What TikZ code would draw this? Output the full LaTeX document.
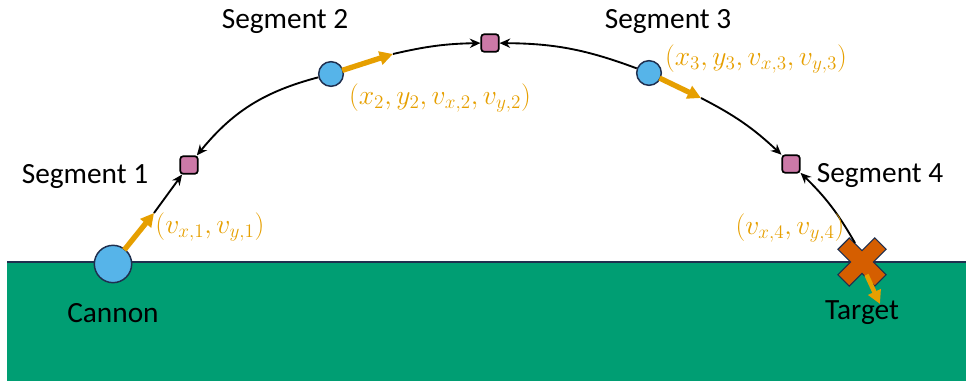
\documentclass[tikz,border=0pt]{standalone}
\usepackage{fontspec}
\setmainfont{Carlito}
\usetikzlibrary{arrows.meta}

\definecolor{skyblue}{HTML}{56B4E9}
\definecolor{ochre}{HTML}{E69F00}
\definecolor{seagreen}{HTML}{009E73}
\definecolor{vermil}{HTML}{D55E00}
\definecolor{mauve}{HTML}{CC79A7}
\definecolor{navy}{HTML}{1F2F4F}

\begin{document}
\begin{tikzpicture}[
  x=0.75pt,y=-0.75pt,
  every node/.style={font=\fontsize{22}{26}\selectfont},
  ball/.style={draw=navy,circle,fill=skyblue,line width=1.1pt,inner sep=0pt,minimum size=18.5pt},
  joint/.style={draw,rounded corners=2pt,fill=mauve,line width=1.3pt,inner sep=0pt,minimum size=13pt},
  state/.style={text=ochre},
  vel/.style={-{Triangle[length=10pt,width=10pt]},ochre,line width=4pt,shorten <=-1pt},
  flow/.style={-{Stealth[length=8pt,width=7pt]},line width=1.4pt}
]
  \useasboundingbox (0,0) rectangle (966,381);

  % ground
  \fill[seagreen] (7,262) rectangle (966,381);
  \draw[navy,line width=1.4pt] (7,262) -- (966,262);

  \node[ball,minimum size=28pt] (cannon) at (113,264) {};
  \node[ball] (b2) at (331,74) {};
  \node[ball] (b3) at (649,73) {};

  \node[joint] (s1) at (189,165) {};
  \node[joint] (s2) at (490,43) {};
  \node[joint] (s3) at (791,164) {};

  % target cross
  \draw[navy,fill=vermil,line width=0.8pt,shift={(862,262)},rotate=45]
    (-8,-26) -- (8,-26) -- (8,-8) -- (26,-8) -- (26,8) -- (8,8) -- (8,26)
    -- (-8,26) -- (-8,8) -- (-26,8) -- (-26,-8) -- (-8,-8) -- cycle;
  \coordinate (tgt) at (862,262);
  \coordinate (tgttop) at (855,243);

  \coordinate (v1) at (154,213);
  \coordinate (v2) at (393,54);
  \coordinate (v3) at (701,98);
  \coordinate (v4) at (880,304);

  \draw[vel] (cannon) -- (v1);
  \draw[vel] (b2) -- (v2);
  \draw[vel] (b3) -- (v3);
  \draw[vel,line width=3.4pt] (867,276) -- (v4);

  \path[flow]
    (v1) edge (s1)
    (b2) edge[bend right=18] (s1)
    (v2) edge[bend left=6] (s2)
    (b3) edge[bend right=10] (s2)
    (v3) edge[bend left=8] (s3)
    (tgttop) edge[bend right=8] (s3);

  \node (seg1) at (85,177) {Segment 1};
  \node (seg2) at (285,22) {Segment 2};
  \node (seg3) at (668,22) {Segment 3};
  \node (seg4) at (880,176) {Segment 4};
  \node (cannonlbl) at (113,313) {Cannon};
  \node (targetlbl) at (862,313) {Target};

  \node[state] (st1) at (210,227) {$\bigl(v_{x,1},v_{y,1}\bigr)$};
  \node[state] (st2) at (440,98) {$\bigl(x_2,y_2,v_{x,2},v_{y,2}\bigr)$};
  \node[state] (st3) at (756,59) {$\bigl(x_3,y_3,v_{x,3},v_{y,3}\bigr)$};
  \node[state] (st4) at (790,228) {$\bigl(v_{x,4},v_{y,4}\bigr)$};
\end{tikzpicture}
\end{document}
